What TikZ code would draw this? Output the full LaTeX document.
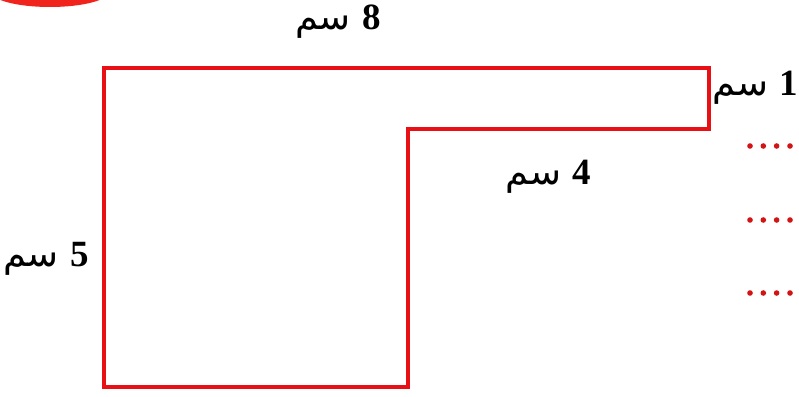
\documentclass[tikz,border=0pt]{standalone}
\usepackage{fontspec}
\TeXXeTstate=1
\newfontfamily\arabicfont[Script=Arabic]{DejaVu Sans}
\newfontfamily\digitfont{Liberation Serif}
\definecolor{shapered}{RGB}{232,16,20}
\definecolor{blobred}{RGB}{240,36,28}
\definecolor{dotred}{RGB}{210,20,20}
\tikzset{
  outline/.style={draw=shapered, line width=4pt, line join=miter},
  lbl/.style={inner sep=0pt, font=\fontsize{37}{40}\selectfont},
}
\newcommand{\cmlabel}[1]{\beginR{\digitfont\bfseries #1} {\arabicfont سم}\endR}
\begin{document}
\begin{tikzpicture}[x=1pt,y=-1pt]
\useasboundingbox (0,0) rectangle (799,396);
\begin{scope}
\clip (0,0) rectangle (799,396);
\fill[blobred] (50,-9) ellipse [x radius=60, y radius=16];
\draw[outline] (104,68) -- (709,68) -- (709,129) -- (408,129) -- (408,387) -- (104,387) -- cycle;
\node[lbl] (top) at (338,22) {\cmlabel{8}};
\node[lbl, anchor=east] (right) at (798,88) {\cmlabel{1}};
\node[lbl] (mid) at (548,177) {\cmlabel{4}};
\node[lbl] (left) at (46,259) {\cmlabel{5}};
\foreach \yy in {146,220,293}{
  \foreach \xx in {750,763.3,776.6,790,803.3}{
    \fill[dotred] (\xx,\yy) circle [radius=2.8];
  }
}
\end{scope}
\end{tikzpicture}
\end{document}
